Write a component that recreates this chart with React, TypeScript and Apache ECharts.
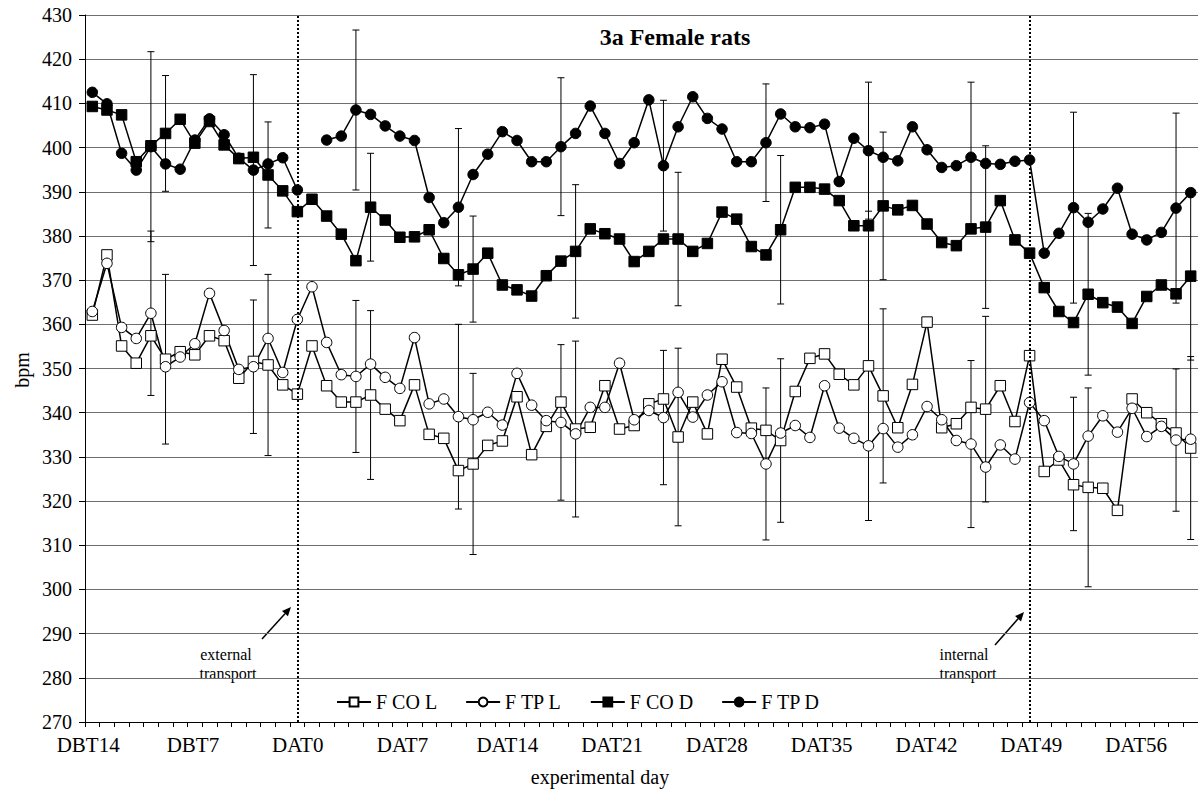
import React, { useEffect, useRef } from "react";
import * as echarts from "echarts";

// 76 measurement slots; the week labels sit on their own evenly spaced label axis
const tickLabels = ["DBT14", "DBT7", "DAT0", "DAT7", "DAT14", "DAT21", "DAT28", "DAT35", "DAT42", "DAT49", "DAT56"];
const slotCount = 76;
const categories: string[] = Array.from({ length: slotCount }, (_, i) => "slot" + i);
const externalTransportSlot = 14;
const internalTransportSlot = 64;

const fCoL = [
  362.1, 375.7, 355.1, 351.2, 357.4, 352.1, 353.8, 353.1, 357.4, 356.3, 347.8, 351.6, 350.8, 346.3, 344.2,
  355.1, 346.1, 342.4, 342.4, 344.0, 340.8, 338.2, 346.3, 335.1, 334.2, 326.9, 328.4, 332.6, 333.6, 343.6,
  330.5, 336.9, 342.4, 336.3, 336.7, 346.1, 336.3, 337.1, 342.0, 343.1, 334.5, 342.4, 335.2, 352.1, 345.8,
  336.5, 336.0, 333.7, 344.8, 352.3, 353.3, 348.7, 346.3, 350.6, 343.8, 336.6, 346.4, 360.5, 336.6, 337.5,
  341.2, 340.8, 346.1, 338.0, 352.9, 326.7, 329.3, 323.7, 323.1, 322.9, 317.9, 343.1, 340.0, 337.5, 335.4,
  332.0,
];
const fTpL = [
  362.9, 373.8, 359.3, 356.8, 362.5, 350.4, 352.6, 355.6, 367.0, 358.6, 349.8, 350.4, 356.8, 349.1, 361.1,
  368.5, 355.9, 348.6, 348.2, 351.0, 348.0, 345.5, 357.0, 342.0, 343.1, 339.1, 338.4, 340.1, 337.2, 348.9,
  341.7, 338.2, 337.8, 335.2, 341.2, 341.2, 351.2, 338.4, 340.5, 338.9, 344.6, 339.0, 344.0, 347.0, 335.5,
  335.3, 328.4, 335.4, 337.1, 334.4, 346.1, 336.5, 334.2, 332.5, 336.4, 332.2, 335.0, 341.4, 338.4, 333.7,
  332.9, 327.7, 332.7, 329.5, 342.3, 338.2, 330.1, 328.4, 334.7, 339.3, 335.6, 341.0, 334.6, 336.9, 333.8,
  334.0,
];
const fCoD = [
  409.3, 408.5, 407.4, 396.8, 400.4, 403.2, 406.4, 401.0, 405.9, 400.6, 397.5, 397.8, 393.8, 390.2, 385.5,
  388.3, 384.5, 380.4, 374.4, 386.5, 383.6, 379.7, 379.8, 381.4, 374.9, 371.2, 372.5, 376.1, 368.9, 367.8,
  366.4, 371.0, 374.3, 376.5, 381.6, 380.5, 379.3, 374.2, 376.5, 379.3, 379.3, 376.5, 378.3, 385.4, 383.8,
  377.6, 375.7, 381.4, 391.0, 391.0, 390.6, 388.0, 382.3, 382.3, 386.8, 385.9, 386.9, 382.7, 378.5, 377.8,
  381.6, 382.0, 388.0, 379.1, 376.1, 368.3, 362.9, 360.4, 366.8, 364.9, 363.9, 360.2, 366.3, 368.9, 366.9,
  370.9,
];
const fTpD: (number | null)[] = [
  412.5, 409.9, 398.7, 394.9, 400.2, 396.3, 395.1, 401.7, 406.5, 402.9, 397.6, 394.9, 396.3, 397.7, 390.4,
  null, 401.7, 402.6, 408.5, 407.5, 404.9, 402.6, 401.6, 388.7, 383.0, 386.5, 393.9, 398.5, 403.6, 401.6,
  396.8, 396.8, 400.2, 403.2, 409.4, 403.2, 396.4, 401.1, 410.8, 395.9, 404.7, 411.5, 406.6, 404.2, 396.8,
  396.8, 401.1, 407.6, 404.7, 404.5, 405.3, 392.3, 402.1, 399.3, 397.8, 397.0, 404.7, 399.5, 395.5, 395.9,
  397.8, 396.4, 396.2, 396.9, 397.2, 376.1, 380.6, 386.4, 383.1, 386.1, 390.8, 380.4, 379.1, 380.8, 386.3,
  389.8,
];

// [slot, SD]
const sdCoL = [[5, 19.2], [12, 20.5], [19, 19.1], [26, 20.5], [33, 19.9], [40, 20.1], [47, 18.5], [53, 35], [54, 19.7], [61, 21], [68, 22.5], [75, 20.7]];
const sdTpL = [[4, 18.6], [11, 15.1], [18, 17.2], [25, 20.9], [32, 17.6], [39, 15.2], [46, 17.2], [60, 18.9], [67, 15.1], [74, 16.1]];
const sdCoD = [[5, 13.1], [12, 12], [19, 12.2], [26, 12], [33, 15.1], [40, 15.1], [47, 16.8], [54, 16.7], [61, 18.4], [68, 18.3], [75, 19]];
const sdTpD = [[4, 21.5], [11, 21.6], [18, 18.1], [25, 17.8], [32, 15.6], [39, 14.8], [46, 13.3], [53, 15.5], [60, 17], [67, 21.6], [74, 21.5]];

const FONT = "Liberation Serif";

function errData(values: (number | null)[], sds: number[][]) {
  return sds.map(([i, sd]) => {
    const v = values[i] as number;
    return [i, v - sd, v + sd];
  });
}

// plot geometry
const PLOT_LEFT = 85;
const PLOT_TOP = 15;
const PLOT_W = 1115;
const PLOT_H = 707;
const SLOT_W = PLOT_W / slotCount;
// label k sits at slot position 14 + (k - 2) * 50 / 7 (DAT0 and DAT49 on the transport lines)
const LABEL_STEP = (SLOT_W * 50) / 7;
const LABEL0_X = PLOT_LEFT + SLOT_W * (0.5 + 14 - (2 * 50) / 7);
const LABEL_LEFT = LABEL0_X - LABEL_STEP / 2;

export default function App() {
  const ref = useRef<HTMLDivElement>(null);
  useEffect(() => {
    if (!ref.current) return;
    const chart = echarts.init(ref.current, undefined, { renderer: "svg" });

    const errSeries = (name: string, values: (number | null)[], sds: number[][]) => ({
      type: "custom",
      name,
      z: 1,
      silent: true,
      encode: { x: 0, y: [1, 2] },
      data: errData(values, sds),
      renderItem: (params: any, api: any) => {
        const x = api.value(0);
        const lo = api.coord([x, api.value(1)]);
        const hi = api.coord([x, api.value(2)]);
        const w = 3.5;
        const st = { stroke: "#000", lineWidth: 1 };
        return {
          type: "group",
          children: [
            { type: "line", shape: { x1: hi[0], y1: hi[1], x2: lo[0], y2: lo[1] }, style: st },
            { type: "line", shape: { x1: hi[0] - w, y1: hi[1], x2: hi[0] + w, y2: hi[1] }, style: st },
            { type: "line", shape: { x1: lo[0] - w, y1: lo[1], x2: lo[0] + w, y2: lo[1] }, style: st },
          ],
        };
      },
    });

    const lineSeries = (name: string, data: (number | null)[], symbol: string, filled: boolean, extra: any = {}) => ({
      type: "line",
      name,
      data,
      z: 3,
      symbol,
      symbolSize: 10.5,
      showAllSymbol: true,
      connectNulls: false,
      lineStyle: { color: "#000", width: 1.5 },
      itemStyle: filled
        ? { color: "#000", borderColor: "#000", borderWidth: 1 }
        : { color: "#fff", borderColor: "#000", borderWidth: 1 },
      emphasis: { disabled: true },
      ...extra,
    });

    const arrow = (x1: number, y1: number, x2: number, y2: number) => {
      const dx = x2 - x1, dy = y2 - y1;
      const len = Math.sqrt(dx * dx + dy * dy);
      const ux = dx / len, uy = dy / len;
      const bx = x2 - ux * 9, by = y2 - uy * 9;
      const px = -uy, py = ux;
      return [
        { type: "line", shape: { x1, y1, x2: bx, y2: by }, style: { stroke: "#000", lineWidth: 1.5 } },
        {
          type: "polygon",
          shape: { points: [[x2, y2], [bx + px * 4, by + py * 4], [bx - px * 4, by - py * 4]] },
          style: { fill: "#000" },
        },
      ];
    };

    const txt = (text: string, x: number, y: number, size: number, weight = "normal") => ({
      type: "text",
      x,
      y,
      style: {
        text,
        fill: "#000",
        fontSize: size,
        fontFamily: FONT,
        fontWeight: weight,
        align: "center",
        verticalAlign: "middle",
      },
    });

    chart.setOption({
      animation: false,
      grid: [
        { left: PLOT_LEFT, top: PLOT_TOP, width: PLOT_W, height: PLOT_H },
        { left: LABEL_LEFT, top: PLOT_TOP, width: LABEL_STEP * tickLabels.length, height: PLOT_H },
      ],
      xAxis: [
        {
          type: "category",
          gridIndex: 0,
          data: categories,
          boundaryGap: true,
          axisLine: { lineStyle: { color: "#000", width: 1 } },
          axisTick: { show: true, interval: 0, length: 5, lineStyle: { color: "#000" } },
          axisLabel: { show: false },
          splitLine: { show: false },
        },
        {
          type: "category",
          gridIndex: 1,
          data: tickLabels,
          boundaryGap: true,
          axisLine: { show: false },
          axisTick: { show: false },
          axisLabel: { interval: 0, margin: 12, color: "#000", fontFamily: FONT, fontSize: 21 },
          splitLine: { show: false },
        },
      ],
      yAxis: [
        {
          type: "value",
          gridIndex: 0,
          min: 270,
          max: 430,
          interval: 10,
          axisLine: { show: true, lineStyle: { color: "#000", width: 1 } },
          axisTick: { show: true, length: 6, lineStyle: { color: "#000" } },
          axisLabel: { color: "#000", fontFamily: FONT, fontSize: 20, margin: 13 },
          splitLine: { lineStyle: { color: "#6e6e6e", width: 1 } },
        },
        { type: "value", gridIndex: 1, show: false, min: 0, max: 1 },
      ],
      legend: {
        data: ["F CO L", "F TP L", "F CO D", "F TP D"],
        left: 331,
        top: 687,
        itemWidth: 34,
        itemHeight: 11,
        itemGap: 28,
        textStyle: { color: "#000", fontFamily: FONT, fontSize: 20 },
        selectedMode: false,
      },
      graphic: [
        txt("3a Female rats", 675, 37, 24, "bold"),
        { ...txt("bpm", 22, 370, 20), rotation: Math.PI / 2 },
        txt("experimental day", 600, 777, 20),
        txt("external", 226, 654, 16),
        txt("transport", 228, 673, 16),
        txt("internal", 964, 654, 16),
        txt("transport", 968, 673, 16),
        ...arrow(262, 639, 291, 607),
        ...arrow(995, 645, 1024, 612),
      ],
      series: [
        errSeries("err CO L", fCoL, sdCoL),
        errSeries("err TP L", fTpL, sdTpL),
        errSeries("err CO D", fCoD, sdCoD),
        errSeries("err TP D", fTpD, sdTpD),
        lineSeries("F CO L", fCoL, "rect", false, {
          markLine: {
            silent: true,
            symbol: "none",
            label: { show: false },
            lineStyle: { color: "#000", type: "dotted", width: 2 },
            data: [
              { xAxis: categories[externalTransportSlot] },
              { xAxis: categories[internalTransportSlot] },
            ],
          },
        }),
        lineSeries("F TP L", fTpL, "circle", false),
        lineSeries("F CO D", fCoD, "rect", true),
        lineSeries("F TP D", fTpD, "circle", true),
      ],
    });
    return () => chart.dispose();
  }, []);
  return (
    <div
      ref={ref}
      style={{ position: "absolute", left: 0, top: 0, width: 1198, height: 794, background: "#fff" }}
    />
  );
}
